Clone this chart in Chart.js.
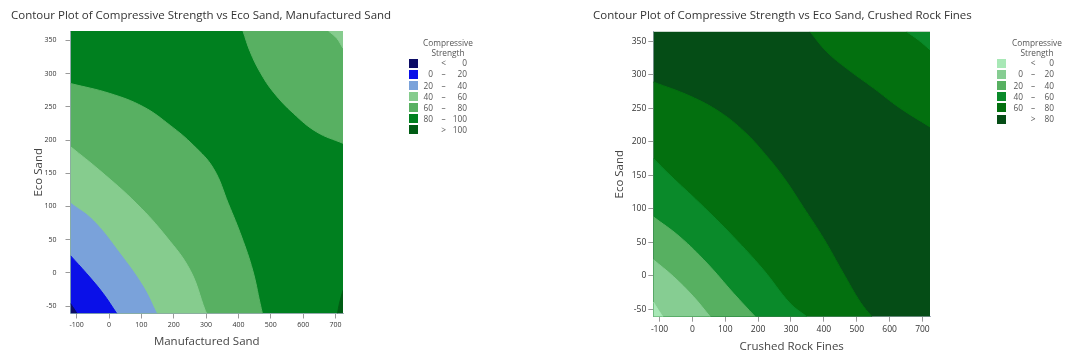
<!DOCTYPE html>
<html>
<head>
<meta charset="utf-8">
<script src="https://cdn.jsdelivr.net/npm/chart.js@4.4.1/dist/chart.umd.min.js"></script>
<style>
html,body{margin:0;padding:0;background:#fff;}
#wrap{position:relative;width:1070px;height:358px;overflow:hidden;font-family:'Open Sans',sans-serif;}
#wrap canvas{position:absolute;top:0;}
.ttl{position:absolute;top:6px;white-space:nowrap;font-size:11.5px;color:#333;line-height:18px;}
.lt{position:absolute;width:90px;text-align:center;font-size:8.3px;line-height:10.3px;color:#555;}
.lv{position:absolute;width:30px;font-size:8.3px;line-height:12px;height:12px;color:#555;white-space:nowrap;}
.sw{position:absolute;width:9px;height:9px;}
</style>
</head>
<body>
<div id="wrap">
  <canvas id="c1" width="535" height="358" style="left:0;width:535px;height:358px;"></canvas>
  <canvas id="c2" width="535" height="358" style="left:535px;width:535px;height:358px;"></canvas>
  <div class="ttl" style="left:11px;">Contour Plot of Compressive Strength vs Eco Sand, Manufactured Sand</div>
  <div class="ttl" style="left:593px;">Contour Plot of Compressive Strength vs Eco Sand, Crushed Rock Fines</div>
</div>
<script>
// ---------- shared axis data ----------
const xTicks = [-100, 0, 100, 200, 300, 400, 500, 600, 700];
const yTicks = [-50, 0, 50, 100, 150, 200, 250, 300, 350];
const xLimits = [-119, 723];
const yLimits = [-61, 364];

// ---------- Plot 1: Eco Sand vs Manufactured Sand ----------
const msLevels = [0, 20, 40, 60, 80, 100];
const msColors = ['#0c0c66', '#0a10e8', '#7aa2da', '#86cc8e', '#58b062', '#00801f', '#005c14'];

const ms0X = [-119, -108, -99];
const ms0Y = [-46, -54, -61];
const ms20X = [-119, -69, -18, 24];
const ms20Y = [26, -1, -31, -61];
const ms40X = [-119, -49, 34, 106, 147];
const ms40Y = [105, 79, 29, -21, -61];
const ms60X = [-119, -28, 86, 178, 251, 297, 302];
const ms60Y = [190, 154, 104, 54, 4, -56, -61];
const ms80X = [-119, 3, 106, 189, 261, 323, 369, 410, 444, 467, 474];
const ms80Y = [285, 270, 250, 222, 192, 157, 104, 54, 4, -46, -61];
const ms80TopX = [414, 436, 467, 508, 570, 642, 723];
const ms80TopY = [364, 333, 302, 272, 240, 212, 195];
const ms60TopX = [678, 704, 723];
const ms60TopY = [364, 353, 338];
const ms100X = [706, 712, 723];
const ms100Y = [-61, -46, -26];

// ---------- Plot 2: Eco Sand vs Crushed Rock Fines ----------
const crLevels = [0, 20, 40, 60, 80];
const crColors = ['#a8e8b6', '#86cd92', '#57b061', '#0a8a2a', '#03700f', '#054d16'];

const cr0X = [-119, -105, -90];
const cr0Y = [-39, -50, -61];
const cr20X = [-119, -58, 3, 54];
const cr20Y = [24, -1, -31, -61];
const cr40X = [-119, -38, 44, 125, 191];
const cr40Y = [88, 58, 19, -26, -61];
const cr60X = [-119, -68, 23, 125, 216, 297, 348];
const cr60Y = [175, 150, 108, 58, 9, -41, -61];
const cr80X = [-119, -7, 84, 160, 222, 280, 338, 400, 458, 512, 546];
const cr80Y = [289, 268, 244, 214, 181, 145, 102, 55, 5, -40, -61];
const cr80TopX = [358, 409, 470, 551, 632, 723];
const cr80TopY = [364, 334, 309, 280, 250, 222];
const cr60TopX = [652, 687, 723];
const cr60TopY = [364, 352, 337];

// ---------- helpers ----------
Chart.defaults.font.family = "'Open Sans', sans-serif";

function band(xs, ys, color, fill) {
  return {
    data: xs.map((x, i) => ({x: x, y: ys[i]})),
    showLine: true, fill: fill,
    backgroundColor: color, borderColor: color, borderWidth: 1,
    pointRadius: 0, pointHoverRadius: 0,
    tension: 0.4
  };
}
function base(color) {
  const d = band([xLimits[0], xLimits[1]], [yLimits[1], yLimits[1]], color, 'start');
  d.tension = 0;
  return d;
}

function makeChart(id, datasets, g) {
  return new Chart(document.getElementById(id), {
    type: 'scatter',
    data: {datasets: datasets},
    options: {
      responsive: false, animation: false, devicePixelRatio: 1,
      events: [],
      layout: {padding: {left: g.padL, top: g.padT, right: g.padR, bottom: 0}},
      plugins: {legend: {display: false}, tooltip: {enabled: false}, title: {display: false}},
      scales: {
        x: {
          type: 'linear', min: xLimits[0], max: xLimits[1],
          afterBuildTicks: s => { s.ticks = xTicks.map(v => ({value: v})); },
          afterFit: s => { s.height = g.xH; },
          ticks: {font: {size: g.tickSize}, color: '#333', padding: g.xTickPad, maxRotation: 0, autoSkip: false},
          grid: {drawOnChartArea: false, drawTicks: true, tickLength: 5, color: '#9a9a9a'},
          border: {display: true, color: '#aab2c2'},
          title: {display: true, text: g.xTitle, font: {size: 11.5}, color: '#444', padding: {top: 0, bottom: g.xTitlePad}}
        },
        y: {
          type: 'linear', min: yLimits[0], max: yLimits[1],
          afterBuildTicks: s => { s.ticks = yTicks.map(v => ({value: v})); },
          afterFit: s => { s.width = 70; },
          ticks: {font: {size: g.tickSize}, color: '#333', padding: g.yTickPad, autoSkip: false},
          grid: {drawOnChartArea: false, drawTicks: true, tickLength: 5, color: '#9a9a9a'},
          border: {display: true, color: '#aab2c2'},
          title: {display: true, text: 'Eco Sand', font: {size: 11.5}, color: '#444', padding: {top: g.yTitlePad, bottom: 0}}
        }
      }
    }
  });
}

// dataset order: first = drawn on top
const ds1 = [
  band(ms0X, ms0Y, msColors[0], 'start'),
  band(ms20X, ms20Y, msColors[1], 'start'),
  band(ms40X, ms40Y, msColors[2], 'start'),
  band(ms60X, ms60Y, msColors[3], 'start'),
  band(ms80X, ms80Y, msColors[4], 'start'),
  band(ms100X, ms100Y, msColors[6], 'start'),
  band(ms60TopX, ms60TopY, msColors[3], 'end'),
  band(ms80TopX, ms80TopY, msColors[4], 'end'),
  base(msColors[5])
];
const ds2 = [
  band(cr0X, cr0Y, crColors[0], 'start'),
  band(cr20X, cr20Y, crColors[1], 'start'),
  band(cr40X, cr40Y, crColors[2], 'start'),
  band(cr60X, cr60Y, crColors[3], 'start'),
  band(cr80X, cr80Y, crColors[4], 'start'),
  band(cr60TopX, cr60TopY, crColors[3], 'end'),
  band(cr80TopX, cr80TopY, crColors[4], 'end'),
  base(crColors[5])
];

makeChart('c1', ds1, {padL: 0.5, padT: 31, padR: 192, xH: 44.5, tickSize: 7, xTickPad: 2.3, yTickPad: 9,
  xTitle: 'Manufactured Sand', xTitlePad: 9.6, yTitlePad: 31});
makeChart('c2', ds2, {padL: 48.3, padT: 31.7, padR: 140, xH: 41.3, tickSize: 8.5, xTickPad: 3, yTickPad: 2,
  xTitle: 'Crushed Rock Fines', xTitlePad: 4.4, yTitlePad: 30});

// ---------- legends (HTML, built from level / colour arrays) ----------
function legend(levels, colors, g) {
  const wrap = document.getElementById('wrap');
  const t = document.createElement('div');
  t.className = 'lt';
  t.style.left = (g.cx - 45) + 'px';
  t.style.top = g.ty + 'px';
  t.innerHTML = 'Compressive<br>Strength';
  wrap.appendChild(t);
  const rows = [['', '<', String(levels[0])]];
  for (let i = 0; i < levels.length - 1; i++) rows.push([String(levels[i]), '–', String(levels[i + 1])]);
  rows.push(['', '>', String(levels[levels.length - 1])]);
  rows.forEach((r, i) => {
    const cy = g.y0 + i * g.dy;
    const sw = document.createElement('div');
    sw.className = 'sw';
    sw.style.left = g.sx + 'px';
    sw.style.top = (cy - 4.5) + 'px';
    sw.style.background = colors[i];
    wrap.appendChild(sw);
    const cells = [[r[0], g.loR - 30, 'right'], [r[1], g.dashC - 15, 'center'], [r[2], g.hiR - 30, 'right']];
    cells.forEach(c => {
      const s = document.createElement('div');
      s.className = 'lv';
      s.textContent = c[0];
      s.style.left = c[1] + 'px';
      s.style.top = (cy - 6) + 'px';
      s.style.textAlign = c[2];
      wrap.appendChild(s);
    });
  });
}
legend(msLevels, msColors, {sx: 409, loR: 433, dashC: 443.5, hiR: 467, y0: 63.3, dy: 11.1, cx: 448, ty: 37.5});
legend(crLevels, crColors, {sx: 996.7, loR: 1023, dashC: 1033, hiR: 1054, y0: 63.3, dy: 11.14, cx: 1037, ty: 37.5});
</script>
</body>
</html>
